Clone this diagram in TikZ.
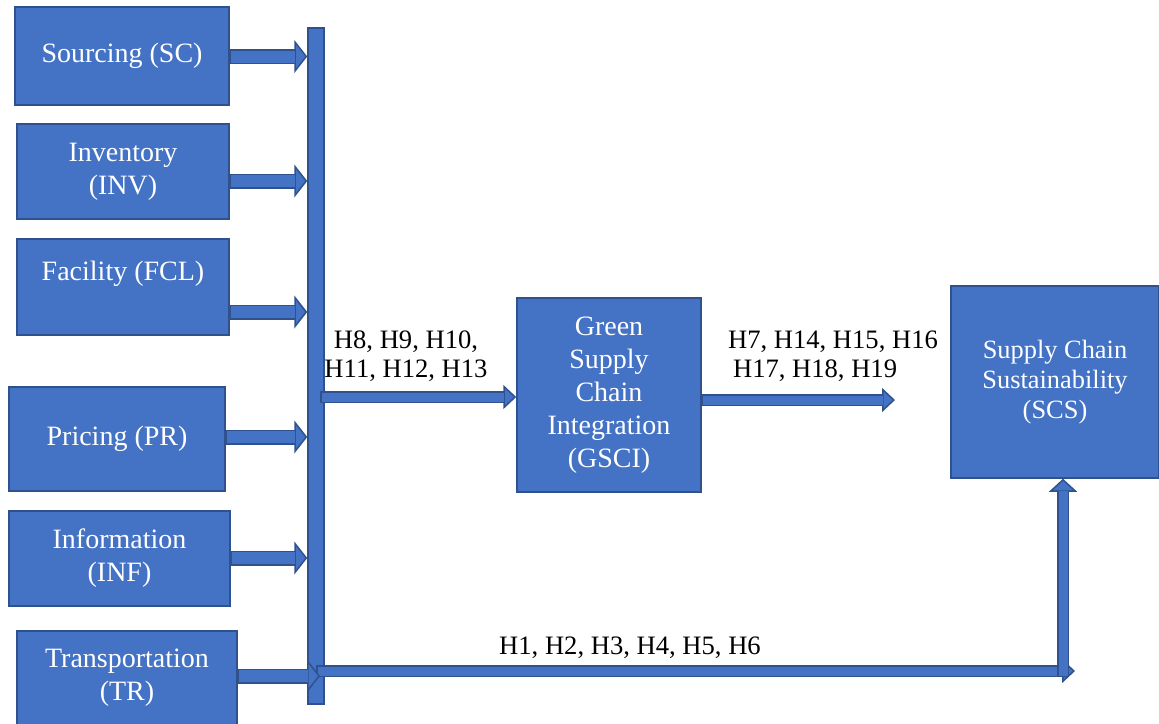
\documentclass[tikz,border=0pt]{standalone}
\usepackage{fontspec}
\setmainfont{Liberation Serif}
\usetikzlibrary{arrows.meta}

\definecolor{figblue}{RGB}{68,114,196}
\definecolor{figdark}{RGB}{47,82,143}

\tikzset{
  box/.style={draw=figdark,fill=figblue,line width=0.75pt,text=white,align=center,
    inner sep=0pt,font=\fontsize{14}{16.5}\selectfont},
  wide/.style={draw=figdark,line width=7.5pt,
    -{Triangle[width=16.5pt,length=6.5pt,fill=figblue,line width=0.75pt]},
    postaction={draw=figblue,line width=6pt,-,shorten >=6pt,shorten <=0.75pt}},
  slim/.style={draw=figdark,line width=6pt,
    -{Triangle[width=#1,length=6.5pt,fill=figblue,line width=0.75pt]},
    postaction={draw=figblue,line width=4.5pt,-,shorten >=6pt,shorten <=0.75pt}},
  slim/.default=12pt,
  hyp/.style={font=\fontsize{13.3}{14.5}\selectfont}
}

\begin{document}
\begin{tikzpicture}[x=0.5pt,y=-0.5pt]
  \useasboundingbox (0,0) rectangle (1159,723);
  % drivers on the left
  \node[box,minimum width=107pt,minimum height=49pt] (sc) at (122,56) {Sourcing (SC)};
  \node[box,minimum width=106pt,minimum height=47.5pt] (inv) at (123,171.5) {Inventory\\(INV)};
  \node[box,minimum width=106pt,minimum height=48pt] (fcl) at (123,287) {Facility (FCL)\\\mbox{}};
  \node[box,minimum width=108pt,minimum height=52pt] (pr) at (117,439) {Pricing (PR)};
  \node[box,minimum width=110.5pt,minimum height=47.5pt] (inf) at (119.5,558.5) {Information\\(INF)};
  \node[box,minimum width=110pt,minimum height=47pt] (tr) at (127,678) {Transportation\\(TR)};
  % collecting bar
  \node[box,minimum width=8pt,minimum height=338pt] (bar) at (316,366) {};
  % mediator and outcome
  \node[box,minimum width=92pt,minimum height=97pt] (gsci) at (609,395)
    {Green\\Supply\\Chain\\Integration\\(GSCI)};
  \node[box,minimum width=104pt,minimum height=96pt,font=\fontsize{13.2}{15}\selectfont] (scs) at (1055,382)
    {Supply Chain\\Sustainability\\(SCS)};
  \coordinate (gend) at (895,400);
  \coordinate (corner) at (1063,671);

  \draw[wide] (sc.east |- 0,56.5) -- (bar.west |- 0,56.5);
  \draw[wide] (inv.east |- 0,181) -- (bar.west |- 0,181);
  \draw[wide] (fcl.east |- 0,312) -- (bar.west |- 0,312);
  \draw[wide] (pr.east |- 0,437) -- (bar.west |- 0,437);
  \draw[wide] (inf.east |- 0,558) -- (bar.west |- 0,558);
  \draw[slim] (bar.center |- 0,671) -- (1075,671);
  \draw[wide] (tr.east |- 0,676) -- (320,676);
  \draw[slim] (320,397) -- (gsci.west |- 0,397);
  \draw[slim] (gsci.east |- gend) -- (gend);
  \draw[slim=14pt] (1063,677) -- (corner |- scs.south);

  \node[hyp,align=center] (hA) at (406,356) {H8, H9, H10,\\H11, H12, H13};
  \node[hyp,align=left,anchor=west] (hB) at (721,356) {H7, H14, H15, H16\\\hspace{2.5pt}H17, H18, H19};
  \node[hyp] (hC) at (630,648) {H1, H2, H3, H4, H5, H6};
\end{tikzpicture}
\end{document}
